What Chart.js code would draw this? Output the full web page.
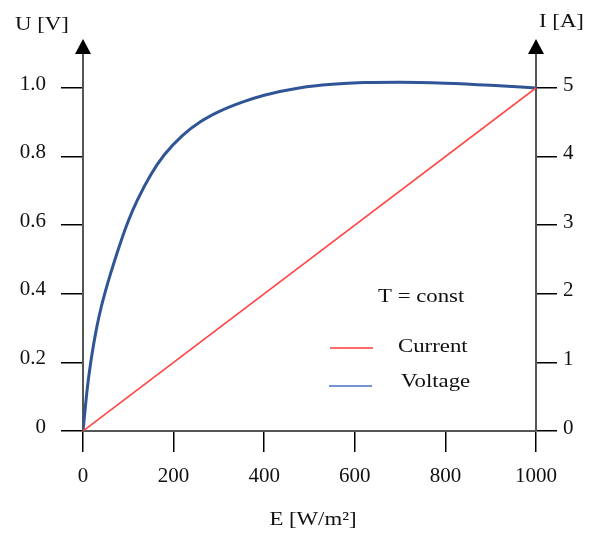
<!DOCTYPE html>
<html lang="en">
<head>
    <meta charset="UTF-8">
    <title>U and I vs E</title>
    <script src="https://cdn.jsdelivr.net/npm/chart.js"></script>
    <style>
        body { margin: 0; background: #fff; }
    </style>
</head>
<body>
    <canvas id="solarChart" width="601" height="533"></canvas>

    <script>
        // irradiance E [W/m2] and voltage U [V]
        const voltageE = [0, 10, 20, 30, 40, 50, 60, 80, 100, 120, 150, 180, 220, 260, 300, 350, 400, 480, 550, 620, 700, 800, 900, 1000];
        const voltageU = [0, 0.13, 0.225, 0.30, 0.36, 0.41, 0.455, 0.538, 0.612, 0.673, 0.748, 0.806, 0.862, 0.902, 0.931, 0.958, 0.979, 1.001, 1.011, 1.016, 1.017, 1.014, 1.008, 1.0];

        // current I [A] is linear in E
        const currentE = [0, 1000];
        const currentI = [0, 5];

        const eTicks = [0, 200, 400, 600, 800, 1000];
        const uTicks = [0, 0.2, 0.4, 0.6, 0.8, 1.0];
        const iTicks = [0, 1, 2, 3, 4, 5];

        const serif = '"Liberation Serif", "Times New Roman", serif';
        const axisColor = '#555';

        // the source figure's lettering is a bit wider than the font
        function wideText(ctx, text, x, y, align) {
            ctx.save();
            ctx.translate(x, y);
            ctx.scale(1.2, 1);
            ctx.textAlign = align;
            ctx.fillText(text, 0, 0);
            ctx.restore();
        }

        // arrows, axis names and the little legend box
        const annotations = {
            id: 'annotations',
            afterDraw(chart) {
                const { ctx, chartArea } = chart;
                ctx.save();
                ctx.fillStyle = '#000';
                [chartArea.left, chartArea.right].forEach(x => {
                    ctx.beginPath();
                    ctx.moveTo(x, chartArea.top - 14);
                    ctx.lineTo(x - 8, chartArea.top + 1);
                    ctx.lineTo(x + 8, chartArea.top + 1);
                    ctx.closePath();
                    ctx.fill();
                });

                ctx.fillStyle = '#111';
                ctx.font = '19px ' + serif;
                ctx.textBaseline = 'middle';
                wideText(ctx, 'U [V]', 15, 25, 'left');
                wideText(ctx, 'I [A]', 539, 22, 'left');
                wideText(ctx, 'E [W/m²]', 313, 520, 'center');
                wideText(ctx, 'T = const', 378, 297, 'left');
                wideText(ctx, 'Current', 398, 347, 'left');
                wideText(ctx, 'Voltage', 401, 382, 'left');

                ctx.lineWidth = 1.5;
                ctx.strokeStyle = '#ff3b3b';
                ctx.beginPath();
                ctx.moveTo(330, 348);
                ctx.lineTo(373, 348);
                ctx.stroke();
                ctx.strokeStyle = '#4472c4';
                ctx.beginPath();
                ctx.moveTo(329, 386);
                ctx.lineTo(372, 386);
                ctx.stroke();
                ctx.restore();
            }
        };

        const ctx = document.getElementById('solarChart').getContext('2d');
        const solarChart = new Chart(ctx, {
            type: 'line',
            data: {
                datasets: [{
                    label: 'Current',
                    data: currentE.map((e, i) => ({ x: e, y: currentI[i] })),
                    yAxisID: 'y1',
                    borderColor: '#ff4545',
                    borderWidth: 1.6,
                    pointRadius: 0,
                    tension: 0
                }, {
                    label: 'Voltage',
                    data: voltageE.map((e, i) => ({ x: e, y: voltageU[i] })),
                    yAxisID: 'y',
                    borderColor: '#2f5597',
                    borderWidth: 3,
                    pointRadius: 0,
                    cubicInterpolationMode: 'monotone'
                }]
            },
            options: {
                responsive: false,
                animation: false,
                layout: { padding: { top: 53 } },
                scales: {
                    x: {
                        type: 'linear',
                        min: 0,
                        max: 1000,
                        afterBuildTicks: axis => { axis.ticks = eTicks.map(v => ({ value: v })); },
                        afterFit: axis => { axis.height = 102; },
                        border: { color: axisColor, width: 2 },
                        grid: { drawOnChartArea: false, tickLength: 21, color: '#000', lineWidth: 1.5 },
                        ticks: {
                            color: '#111',
                            padding: 12,
                            maxRotation: 0,
                            font: { family: serif, size: 21 },
                            callback: v => String(v)
                        }
                    },
                    y: {
                        position: 'left',
                        min: 0,
                        max: 1.102,
                        afterBuildTicks: axis => { axis.ticks = uTicks.map(v => ({ value: v })); },
                        afterFit: axis => { axis.width = 83; },
                        border: { color: axisColor, width: 2 },
                        grid: { drawOnChartArea: false, tickLength: 22, color: '#000', lineWidth: 1.5 },
                        ticks: {
                            color: '#111',
                            padding: 15,
                            labelOffset: -4,
                            font: { family: serif, size: 21 },
                            callback: v => v === 0 ? '0' : v.toFixed(1)
                        }
                    },
                    y1: {
                        position: 'right',
                        min: 0,
                        max: 5.51,
                        afterBuildTicks: axis => { axis.ticks = iTicks.map(v => ({ value: v })); },
                        afterFit: axis => { axis.width = 65; },
                        border: { color: axisColor, width: 2 },
                        grid: { drawOnChartArea: false, tickLength: 21, color: '#000', lineWidth: 1.5 },
                        ticks: {
                            color: '#111',
                            padding: 6,
                            labelOffset: -3,
                            font: { family: serif, size: 21 }
                        }
                    }
                },
                plugins: {
                    legend: { display: false },
                    tooltip: { enabled: false }
                }
            },
            plugins: [annotations]
        });
    </script>
</body>
</html>
